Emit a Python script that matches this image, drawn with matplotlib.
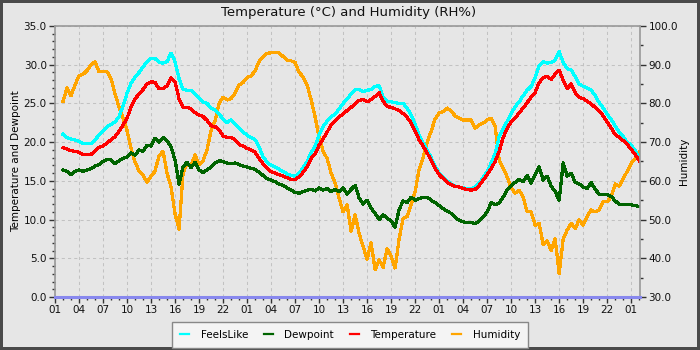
import numpy as np
import matplotlib
matplotlib.use("Agg")
import matplotlib.pyplot as plt
from matplotlib.ticker import MultipleLocator, FormatStrFormatter, FixedLocator, FixedFormatter

# ---------------- data (half-hour samples, hours since first "01" tick) ----------------
start_hour = 1.0
step_hours = 0.5

temperature = [
    19.3, 19.1, 18.9, 18.8, 18.7, 18.4, 18.4, 18.4, 18.9, 19.3, 19.5, 19.9,
    20.3, 20.7, 21.4, 22.2, 23.1, 24.5, 25.6, 26.2, 26.8, 27.5, 27.8, 27.7,
    26.9, 26.9, 27.3, 28.3, 27.8, 25.6, 24.5, 24.5, 24.3, 23.8, 23.5, 23.3,
    22.8, 22.1, 22.0, 21.6, 20.8, 20.6, 20.6, 20.3, 19.7, 19.5, 19.2, 19.0,
    18.7, 17.9, 17.2, 16.6, 16.2, 16.0, 15.8, 15.6, 15.4, 15.2, 15.2, 15.5,
    16.1, 16.8, 17.9, 18.5, 19.6, 20.4, 21.3, 22.2, 22.7, 23.3, 23.6, 24.1,
    24.5, 24.9, 25.4, 25.5, 25.2, 25.5, 25.9, 26.4, 25.3, 24.6, 24.5, 24.3,
    24.1, 23.7, 23.2, 22.5, 21.4, 20.3, 19.5, 18.6, 17.7, 16.6, 15.8, 15.3,
    14.8, 14.5, 14.3, 14.2, 14.0, 13.9, 13.8, 13.9, 14.4, 15.1, 15.8, 16.6,
    17.5, 18.8, 20.6, 21.8, 22.6, 23.1, 23.8, 24.4, 25.1, 25.8, 26.4, 27.7,
    28.3, 28.5, 28.1, 28.8, 29.3, 28.0, 26.9, 27.5, 26.4, 25.8, 25.6, 25.3,
    24.9, 24.5, 24.0, 23.4, 22.6, 21.8, 21.0, 20.6, 20.2, 19.7, 19.1, 18.4,
    17.6,
]

feels_like = [
    21.0, 20.6, 20.4, 20.3, 20.1, 19.8, 19.8, 19.8, 20.3, 20.9, 21.4, 22.0,
    22.3, 22.6, 23.3, 24.7, 26.3, 27.6, 28.4, 29.0, 29.7, 30.4, 30.8, 30.8,
    30.3, 30.2, 30.4, 31.5, 30.4, 28.2, 26.8, 26.7, 26.7, 26.2, 25.7, 25.2,
    25.0, 24.4, 24.2, 23.6, 23.0, 22.5, 22.9, 22.3, 21.8, 21.3, 20.9, 20.6,
    20.3, 19.4, 18.1, 17.4, 17.0, 16.8, 16.5, 16.2, 15.9, 15.7, 15.6, 16.0,
    16.7, 17.5, 18.6, 19.5, 20.9, 22.0, 22.7, 23.3, 23.6, 24.3, 25.0, 25.6,
    26.2, 26.8, 26.8, 26.5, 26.7, 26.8, 27.2, 27.3, 25.8, 25.3, 25.2, 25.1,
    25.0, 25.0, 24.4, 23.5, 22.3, 20.9, 19.9, 19.0, 18.0, 16.9, 16.0, 15.5,
    15.0, 14.6, 14.3, 14.2, 14.1, 14.0, 14.0, 14.2, 14.7, 15.4, 16.2, 17.3,
    18.5, 20.7, 21.8, 22.7, 23.7, 24.6, 25.2, 26.0, 26.7, 27.2, 28.3, 29.9,
    30.4, 30.2, 30.3, 30.6, 31.7, 30.3, 29.5, 29.3, 28.5, 27.5, 27.2, 27.0,
    26.7, 26.0, 25.1, 24.4, 23.6, 22.9, 22.1, 21.3, 20.7, 20.0, 19.6, 18.9,
    18.0,
]

dewpoint = [
    16.4, 16.2, 15.8, 16.2, 16.4, 16.2, 16.4, 16.6, 16.9, 17.1, 17.5, 17.8,
    17.7, 17.2, 17.6, 17.9, 18.1, 18.6, 18.3, 19.0, 18.8, 19.6, 19.5, 20.5,
    20.0, 20.6, 20.2, 19.4, 17.7, 14.6, 16.8, 17.4, 16.7, 17.4, 16.4, 16.1,
    16.4, 16.8, 17.3, 17.6, 17.5, 17.3, 17.2, 17.3, 17.1, 16.9, 16.8, 16.6,
    16.5, 16.1, 15.7, 15.3, 15.1, 14.9, 14.6, 14.4, 14.1, 13.8, 13.5, 13.4,
    13.6, 13.8, 13.9, 13.7, 14.1, 13.8, 14.0, 13.6, 13.9, 13.6, 14.1, 13.3,
    13.9, 14.4, 12.8, 12.0, 12.5, 11.5, 10.8, 10.0, 10.6, 10.2, 9.8, 9.0,
    11.3, 12.4, 12.2, 12.9, 12.5, 12.7, 12.9, 12.9, 12.5, 12.2, 11.8, 11.4,
    11.1, 10.8, 10.3, 9.9, 9.7, 9.6, 9.6, 9.5, 9.8, 10.3, 11.0, 12.2,
    11.9, 12.1, 12.9, 13.8, 14.4, 14.8, 15.2, 14.9, 15.7, 14.7, 15.8, 16.8,
    15.1, 15.6, 14.3, 13.6, 12.5, 17.3, 15.6, 16.0, 14.8, 14.6, 14.2, 14.0,
    14.8, 13.9, 13.3, 13.2, 13.2, 13.0, 12.4, 12.0, 11.9, 11.9, 11.9, 11.8,
    11.7,
]

humidity = [
    80.5, 84.0, 82.0, 84.8, 87.2, 87.5, 88.5, 89.9, 90.8, 88.2, 88.2, 88.2,
    86.4, 82.5, 79.0, 76.2, 73.0, 68.4, 64.8, 62.6, 61.5, 59.6, 61.2, 62.5,
    66.5, 67.6, 62.0, 58.4, 51.5, 47.5, 62.0, 64.5, 64.0, 66.7, 64.2, 65.2,
    68.0, 73.0, 75.5, 80.0, 81.6, 80.9, 81.2, 82.7, 84.8, 85.4, 86.7, 87.1,
    88.4, 90.8, 92.1, 92.9, 93.1, 93.1, 93.1, 92.1, 91.2, 91.0, 90.6, 88.0,
    86.9, 84.8, 81.0, 76.5, 71.4, 67.6, 65.8, 62.0, 59.5, 55.5, 52.0, 53.8,
    47.0, 51.2, 46.5, 43.0, 39.8, 44.0, 37.0, 39.6, 37.6, 42.5, 40.5, 37.5,
    45.0, 50.3, 50.8, 53.8, 57.2, 63.0, 66.0, 70.0, 72.8, 76.0, 77.5, 77.9,
    78.8, 78.0, 76.8, 76.2, 75.7, 75.7, 75.7, 73.6, 74.4, 74.9, 75.7, 76.2,
    74.0, 65.4, 63.3, 61.0, 58.2, 56.8, 57.6, 55.8, 52.0, 52.0, 48.5, 49.0,
    43.5, 44.5, 42.0, 45.0, 36.0, 45.0, 47.3, 49.0, 47.7, 49.9, 48.6, 50.8,
    52.5, 52.0, 52.5, 54.6, 54.6, 55.9, 59.2, 58.6, 60.5, 62.5, 64.5, 65.8,
    67.5,
]

xtick_hours = list(range(0, 73, 3))
xtick_labels = ["01", "04", "07", "10", "13", "16", "19", "22"] * 3 + ["01"]

series_names = ["FeelsLike", "Dewpoint", "Temperature", "Humidity"]
series_colors = ["#00ffff", "#006400", "#ff0000", "#ffa500"]

# ---------------- figure ----------------
BG = "#e6e6e6"
fig = plt.figure(figsize=(7, 3.5), dpi=100, facecolor=BG,
                 edgecolor="#4a4a4a", linewidth=4)

ax_h = fig.add_axes([55 / 700, 53 / 350, 585 / 700, 271 / 350])
ax_h.set_facecolor(BG)
ax_t = ax_h.twinx()

def hours_for(values):
    return start_hour + step_hours * np.arange(len(values))

lw = 1.6
h_line, = ax_h.plot(hours_for(humidity), humidity, color=series_colors[3],
                    lw=lw, antialiased=False, label=series_names[3])
f_line, = ax_t.plot(hours_for(feels_like), feels_like, color=series_colors[0],
                    lw=lw, antialiased=False, label=series_names[0])
d_line, = ax_t.plot(hours_for(dewpoint), dewpoint, color=series_colors[1],
                    lw=lw, antialiased=False, label=series_names[1])
t_line, = ax_t.plot(hours_for(temperature), temperature, color=series_colors[2],
                    lw=lw, antialiased=False, label=series_names[2])

ax_h.set_xlim(0, 73.1)
ax_h.set_ylim(30, 100)
ax_t.set_ylim(0, 35)

# axis sides
ax_h.yaxis.tick_right()
ax_h.yaxis.set_label_position("right")
ax_t.yaxis.tick_left()
ax_t.yaxis.set_label_position("left")

# ticks
ax_h.xaxis.set_major_locator(FixedLocator(xtick_hours))
ax_h.xaxis.set_major_formatter(FixedFormatter(xtick_labels))
ax_h.xaxis.set_minor_locator(MultipleLocator(1))
ax_h.yaxis.set_major_locator(MultipleLocator(10))
ax_h.yaxis.set_minor_locator(MultipleLocator(5))
ax_h.yaxis.set_major_formatter(FormatStrFormatter("%.1f"))
ax_t.yaxis.set_major_locator(MultipleLocator(5))
ax_t.yaxis.set_minor_locator(MultipleLocator(1))
ax_t.yaxis.set_major_formatter(FormatStrFormatter("%.1f"))

tick_color = "#333333"
for a in (ax_h, ax_t):
    a.tick_params(which="major", length=4, width=1, color=tick_color,
                  labelsize=7.5, labelcolor="#111111", pad=2)
    a.tick_params(which="minor", length=2.5, width=1, color=tick_color)

# grid on the bottom (humidity) axes so it sits beneath all lines
ax_h.grid(True, which="major", color="#c2c2c2", linestyle=(0, (3, 3)), lw=0.75)
ax_h.set_axisbelow(True)

# spines
for s in ax_h.spines.values():
    s.set_visible(False)
for name in ("left", "top", "right"):
    ax_t.spines[name].set_color("#999999")
    ax_t.spines[name].set_linewidth(1.2)
ax_t.spines["bottom"].set_color("#8888ee")
ax_t.spines["bottom"].set_linewidth(2.2)

ax_t.set_ylabel("Temperature and Dewpoint", fontsize=7.5, labelpad=2)
ax_h.set_ylabel("Humidity", fontsize=7.5, labelpad=1)

fig.text(0.498, 0.965, "Temperature (\u00b0C) and Humidity (RH%)",
         ha="center", va="center", fontsize=9.5, color="#111111")

leg = fig.legend([f_line, d_line, t_line, h_line], series_names,
                 loc="lower center", bbox_to_anchor=(0.5, -0.008), ncol=4,
                 frameon=True, fancybox=False, edgecolor="#888888",
                 facecolor="#f4f4f4", framealpha=1, fontsize=7.5,
                 handlelength=0.9, handletextpad=1.1, columnspacing=1.5,
                 borderpad=0.75)
leg.get_frame().set_linewidth(1.0)

fig.savefig("out.png", dpi=100, facecolor=fig.get_facecolor(),
            edgecolor=fig.get_edgecolor())
